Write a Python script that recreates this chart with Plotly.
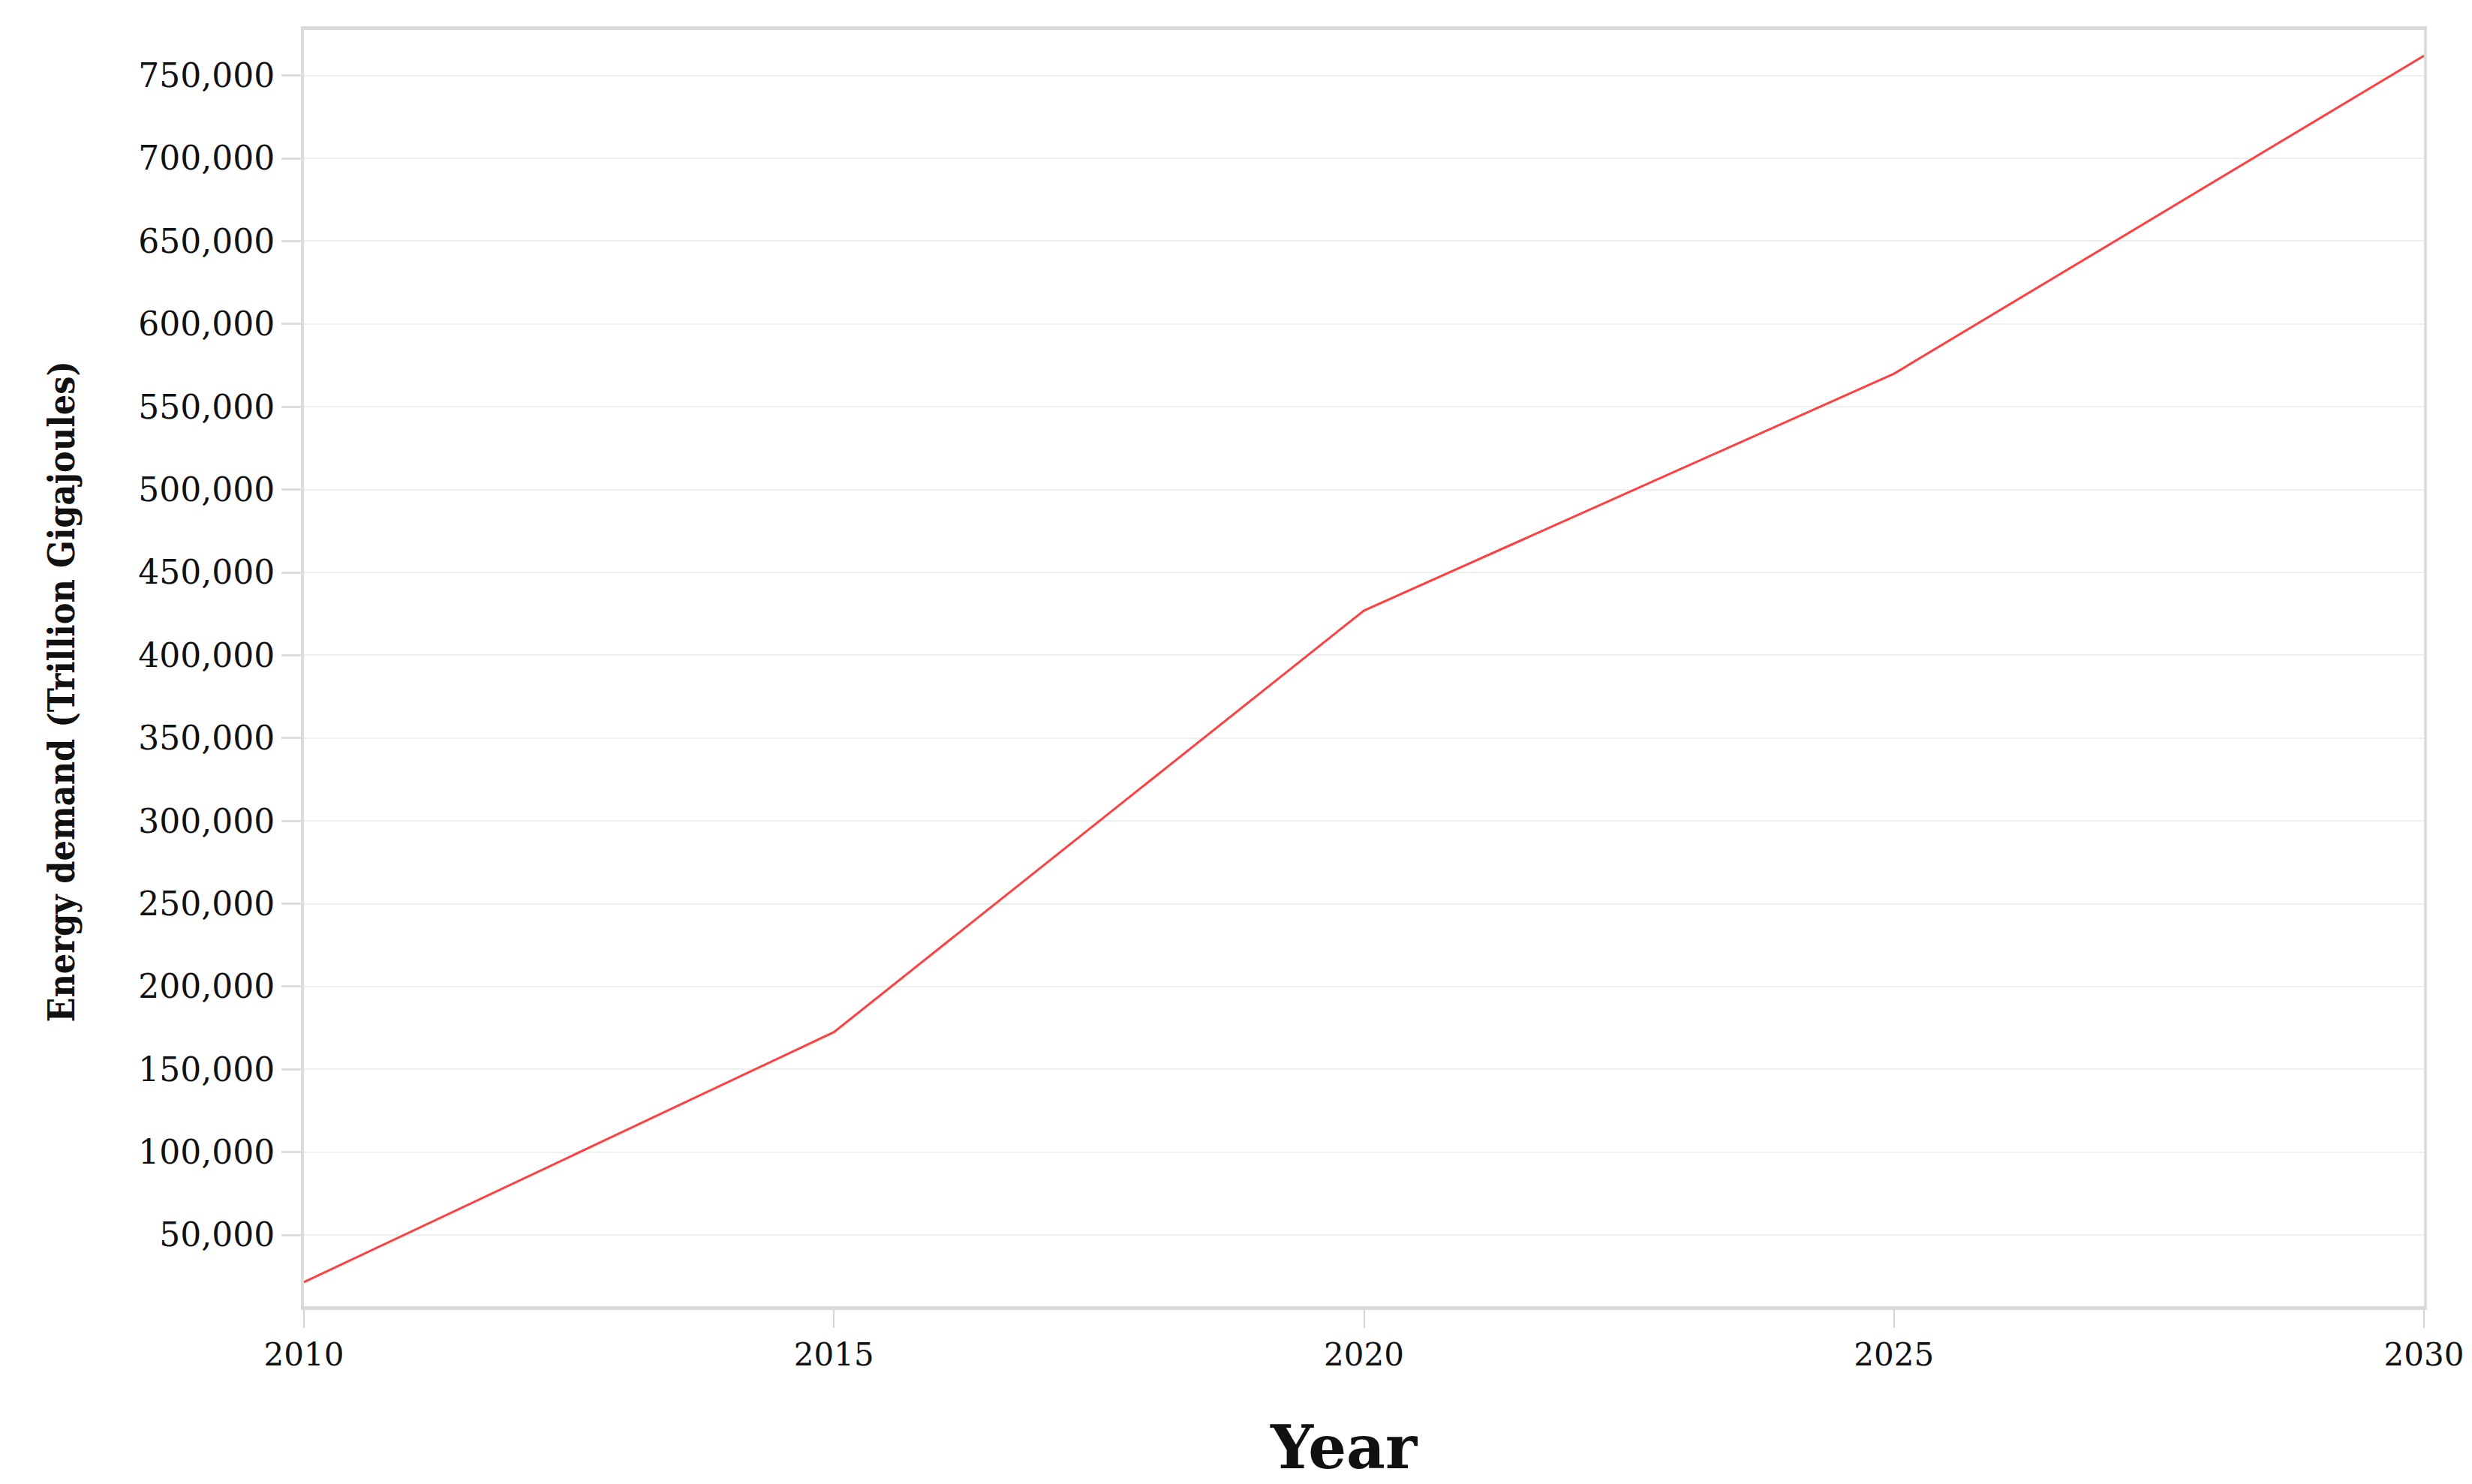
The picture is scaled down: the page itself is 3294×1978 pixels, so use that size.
import plotly.graph_objects as go

years = [2010, 2015, 2020, 2025, 2030]
energy_demand = [21500, 172500, 427000, 570000, 762000]

y_ticks = list(range(50000, 750001, 50000))
x_ticks = [2010, 2015, 2020, 2025, 2030]

fig = go.Figure()
fig.add_trace(go.Scatter(x=years, y=energy_demand, mode="lines",
                         line=dict(color="#ff4040", width=3),
                         showlegend=False))

fig.update_layout(
    width=3294, height=1978,
    paper_bgcolor="white", plot_bgcolor="white",
    margin=dict(l=397, r=72, t=32, b=245),
    font=dict(family="DejaVu Serif", color="#111111", size=42),
)

fig.update_xaxes(
    range=[2010, 2030], tickvals=x_ticks,
    showgrid=False, zeroline=False,
    showline=True, linecolor="#d9d9d9", linewidth=5, mirror=True,
    ticks="outside", ticklen=24, tickwidth=2, tickcolor="#d4d4d4",
    tickfont=dict(family="DejaVu Serif", size=42),
)

fig.update_yaxes(
    range=[7000, 777500], tickvals=y_ticks, tickformat=",d",
    showgrid=True, gridcolor="#efefef", gridwidth=2, zeroline=False,
    showline=True, linecolor="#dcdcdc", linewidth=4, mirror=True,
    ticks="outside", ticklen=26, tickwidth=3, tickcolor="#dddddd",
    tickfont=dict(family="DejaVu Serif", size=44),
)

# axis titles as annotations so they sit where the original has them
fig.add_annotation(text="<b>Year</b>", xref="paper", yref="paper",
                   x=0.5, y=0, xanchor="center", yanchor="middle",
                   xshift=-27, yshift=-188, showarrow=False,
                   font=dict(family="DejaVu Serif", size=80, color="#111111"))
fig.add_annotation(text="<b>Energy demand (Trillion Gigajoules)</b>", xref="paper", yref="paper",
                   x=0, y=0.5, xanchor="center", yanchor="middle", textangle=-90,
                   xshift=-324, yshift=-32, showarrow=False,
                   font=dict(family="DejaVu Serif Condensed, Liberation Serif, serif", size=48, color="#111111"))

fig.write_html("out.html")
